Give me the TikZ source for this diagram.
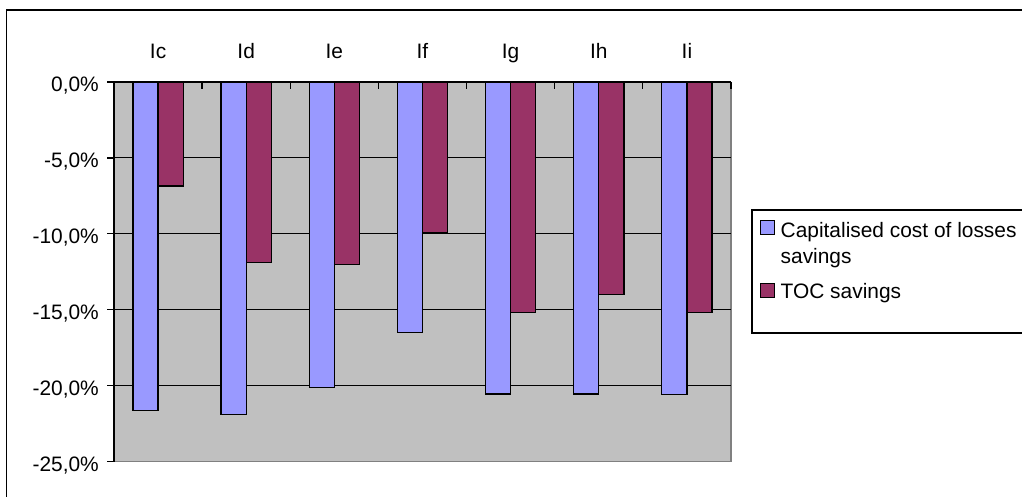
\documentclass[tikz,border=0pt]{standalone}
\usepackage{fontspec}
\setmainfont{Liberation Sans}
\definecolor{plotgray}{HTML}{C0C0C0}
\definecolor{barblue}{HTML}{9999FF}
\definecolor{barmaroon}{HTML}{993366}
\definecolor{bordergray}{HTML}{808080}
\begin{document}
\begin{tikzpicture}[x=1pt,y=-1pt,
  font=\fontsize{20.9}{26}\selectfont,
  bluebar/.style={draw=black, line width=1.2pt, fill=barblue},
  maroonbar/.style={draw=black, line width=1.2pt, fill=barmaroon},
  gridline/.style={draw=black, line width=1.1pt},
  axisline/.style={draw=black, line width=1.3pt},
  ticklabel/.style={anchor=base east, inner sep=0pt},
  catlabel/.style={anchor=base, inner sep=0pt},
  legtext/.style={anchor=base west, inner sep=0pt}]
\useasboundingbox (0,0) rectangle (1022,497);
\def\ys{15.18}
\def\cw{88.14}
% outer frame and legend box (cut by the page edge)
\begin{scope}
  \clip (0,0) rectangle (1022,497);
  \draw[line width=1.6pt] (6.5,10) rectangle (1060,540);
  \draw[line width=1.1pt, fill=white] (752,210) rectangle (1060,333);
\end{scope}
% plot area
\fill[plotgray] (114,82) rectangle (731,461.5);
\draw[bordergray, line width=1.3pt] (731,82) -- (731,461.5) -- (114,461.5);
\foreach \v in {5,10,15,20} {
  \draw[gridline] (114,{82+\v*\ys}) -- (731,{82+\v*\ys});
}
% bars
\foreach \k/\b/\m in {0/21.65/6.85, 1/21.9/11.9, 2/20.1/12.0, 3/16.5/9.9,
                      4/20.55/15.2, 5/20.55/14.0, 6/20.6/15.2} {
  \draw[bluebar] ({114+\k*\cw+18.9},82) rectangle ({114+\k*\cw+44.07},{82+\b*\ys});
  \draw[maroonbar] ({114+\k*\cw+44.07},82) rectangle ({114+\k*\cw+69.2},{82+\m*\ys});
}
% axes
\draw[axisline] (114,82) -- (114,461.5);
\draw[axisline] (114,82) -- (731,82);
\foreach \v in {0,5,10,15,20,25} {
  \draw[axisline] (107,{82+\v*\ys}) -- (114,{82+\v*\ys});
}
\foreach \k in {0,...,7} {
  \draw[axisline] ({114+\k*\cw},82) -- ({114+\k*\cw},89);
}
% value labels
\node[ticklabel] (v0) at (99,{82+0*\ys+9.5}) {0,0\%};
\node[ticklabel] (v5) at (99,{82+5*\ys+9.5}) {-5,0\%};
\node[ticklabel] (v10) at (99,{82+10*\ys+9.5}) {-10,0\%};
\node[ticklabel] (v15) at (99,{82+15*\ys+9.5}) {-15,0\%};
\node[ticklabel] (v20) at (99,{82+20*\ys+9.5}) {-20,0\%};
\node[ticklabel] (v25) at (99,{82+25*\ys+9.5}) {-25,0\%};
% category labels
\node[catlabel] (c0) at ({114+0.5*\cw},59) {Ic};
\node[catlabel] (c1) at ({114+1.5*\cw},59) {Id};
\node[catlabel] (c2) at ({114+2.5*\cw},59) {Ie};
\node[catlabel] (c3) at ({114+3.5*\cw},59) {If};
\node[catlabel] (c4) at ({114+4.5*\cw},59) {Ig};
\node[catlabel] (c5) at ({114+5.5*\cw},59) {Ih};
\node[catlabel] (c6) at ({114+6.5*\cw},59) {Ii};
% legend
\draw[bluebar] (760.7,220.7) rectangle (774.7,234.7);
\draw[maroonbar] (760.7,283.5) rectangle (774.7,297.5);
\node[legtext] (l1) at (780.5,237) {Capitalised cost of losses};
\node[legtext] (l2) at (780.5,263) {savings};
\node[legtext] (l3) at (780.5,298) {TOC savings};
\end{tikzpicture}
\end{document}
